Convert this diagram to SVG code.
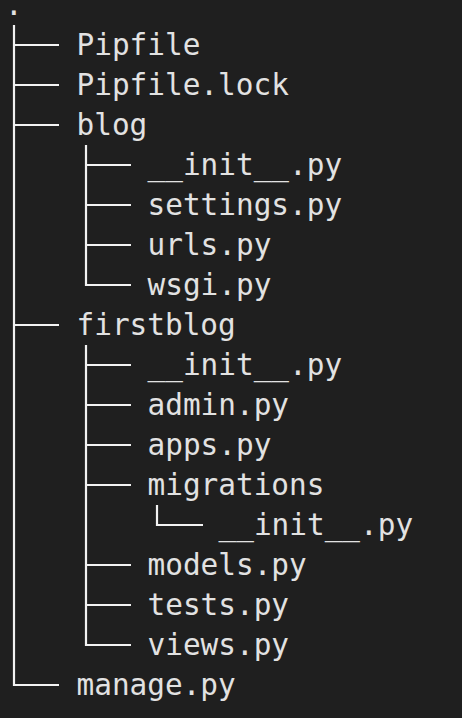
<svg xmlns="http://www.w3.org/2000/svg" width="462" height="718" viewBox="0 0 462 718">
<style>
text{font-family:"DejaVu Sans Mono","Liberation Mono",monospace;font-size:29.4px;fill:#e2e2e2}
.c line{stroke:#f2f2f2;stroke-width:2.2;fill:none}
</style>
<rect width="462" height="718" fill="#1f1f1f"/>
<g class="c" id="connectors">
<line x1="14" y1="25" x2="14" y2="686"/>
<line x1="14" y1="45" x2="59" y2="45"/>
<line x1="14" y1="85" x2="59" y2="85"/>
<line x1="14" y1="125" x2="59" y2="125"/>
<line x1="14" y1="325" x2="59" y2="325"/>
<line x1="13" y1="685" x2="59" y2="685"/>
<line x1="86" y1="145" x2="86" y2="286"/>
<line x1="86" y1="165" x2="131" y2="165"/>
<line x1="86" y1="205" x2="131" y2="205"/>
<line x1="86" y1="245" x2="131" y2="245"/>
<line x1="85" y1="285" x2="131" y2="285"/>
<line x1="86" y1="345" x2="86" y2="646"/>
<line x1="86" y1="365" x2="131" y2="365"/>
<line x1="86" y1="405" x2="131" y2="405"/>
<line x1="86" y1="445" x2="131" y2="445"/>
<line x1="86" y1="485" x2="131" y2="485"/>
<line x1="86" y1="565" x2="131" y2="565"/>
<line x1="86" y1="605" x2="131" y2="605"/>
<line x1="85" y1="645" x2="131" y2="645"/>
<line x1="157" y1="505" x2="157" y2="526"/>
<line x1="156" y1="525" x2="203" y2="525"/>
</g>
<g id="root"><text x="5" y="14.5">.</text></g>
<g id="pipfile"><text x="76.5" y="54.5">Pipfile</text></g>
<g id="pipfile-lock"><text x="76.5" y="94.5">Pipfile.lock</text></g>
<g id="blog"><text x="76.5" y="134.5">blog</text></g>
<g id="blog-init"><text x="147.5" y="174.5">__init__.py</text></g>
<g id="blog-settings"><text x="147.5" y="214.5">settings.py</text></g>
<g id="blog-urls"><text x="147.5" y="254.5">urls.py</text></g>
<g id="blog-wsgi"><text x="147.5" y="294.5">wsgi.py</text></g>
<g id="firstblog"><text x="76.5" y="334.5">firstblog</text></g>
<g id="fb-init"><text x="147.5" y="374.5">__init__.py</text></g>
<g id="fb-admin"><text x="147.5" y="414.5">admin.py</text></g>
<g id="fb-apps"><text x="147.5" y="454.5">apps.py</text></g>
<g id="fb-migrations"><text x="147.5" y="494.5">migrations</text></g>
<g id="mig-init"><text x="218.5" y="534.5">__init__.py</text></g>
<g id="fb-models"><text x="147.5" y="574.5">models.py</text></g>
<g id="fb-tests"><text x="147.5" y="614.5">tests.py</text></g>
<g id="fb-views"><text x="147.5" y="654.5">views.py</text></g>
<g id="manage"><text x="76.5" y="694.5">manage.py</text></g>
</svg>
